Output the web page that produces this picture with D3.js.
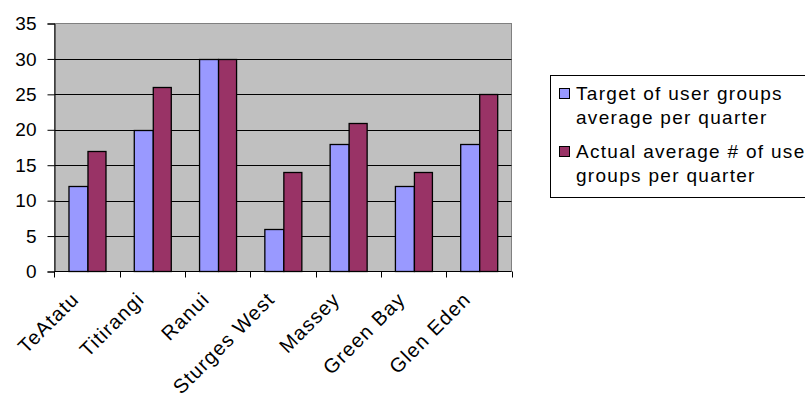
<!DOCTYPE html>
<html>
<head>
<meta charset="utf-8">
<script src="https://cdn.jsdelivr.net/npm/d3@7"></script>
<style>
  html, body { margin: 0; padding: 0; background: #fff; }
  svg { display: block; }
  text { font-family: "Liberation Sans", Arial, sans-serif; fill: #000; }
</style>
</head>
<body>
<svg id="chart" width="805" height="403"></svg>
<script>
// Branches and user-group figures
const branches = ["TeAtatu", "Titirangi", "Ranui", "Sturges West", "Massey", "Green Bay", "Glen Eden"];
const targetValues = [12, 20, 30, 6, 18, 12, 18];
const actualValues = [17, 26, 30, 14, 21, 14, 25];
const seriesNames = ["Target of user groups average per quarter", "Actual average # of user groups per quarter"];
const legendLines = [["Target of user groups", "average per quarter"], ["Actual average # of user", "groups per quarter"]];
const seriesColors = ["#9999FF", "#993366"];
const yTicks = [0, 5, 10, 15, 20, 25, 30, 35];

const svg = d3.select("#chart");
const plot = { left: 54.5, right: 511.5, top: 23.5, bottom: 271.5 };

const x = d3.scaleBand().domain(branches).range([plot.left, plot.right]).paddingInner(0).paddingOuter(0);
const y = d3.scaleLinear().domain([0, 35]).range([plot.bottom, plot.top]);

// plot background
svg.append("rect")
  .attr("x", plot.left).attr("y", plot.top)
  .attr("width", plot.right - plot.left).attr("height", plot.bottom - plot.top)
  .attr("fill", "#C0C0C0").attr("stroke", "#808080").attr("stroke-width", 1);

// horizontal gridlines
svg.append("g").selectAll("line")
  .data(yTicks.filter(d => d > 0 && d < 35))
  .join("line")
  .attr("x1", plot.left).attr("x2", plot.right)
  .attr("y1", d => Math.round(y(d)) + 0.5).attr("y2", d => Math.round(y(d)) + 0.5)
  .attr("stroke", "#000").attr("stroke-width", 1);

// bars: gap width 150% between groups
const barW = x.bandwidth() / 3.5;
const groups = svg.append("g").selectAll("g")
  .data(branches.map((b, i) => ({ b, vals: [targetValues[i], actualValues[i]] })))
  .join("g")
  .attr("transform", d => `translate(${x(d.b) + barW * 0.75},0)`);

groups.selectAll("rect")
  .data(d => d.vals)
  .join("rect")
  .attr("x", (d, i) => Math.round(i * barW) + 0.5)
  .attr("width", (d, i) => Math.round((i + 1) * barW) - Math.round(i * barW))
  .attr("y", d => Math.round(y(d)) + 0.5)
  .attr("height", d => Math.round(plot.bottom - 0.5) - Math.round(y(d)))
  .attr("fill", (d, i) => seriesColors[i])
  .attr("stroke", "#000").attr("stroke-width", 1.3);

// y axis
const yAxis = d3.axisLeft(y).tickValues(yTicks).tickSize(7).tickPadding(11).tickFormat(d3.format("d"));
const gy = svg.append("g").attr("transform", `translate(${plot.left},0)`).call(yAxis);
gy.select(".domain").attr("stroke", "#000");
gy.selectAll(".tick line").attr("stroke", "#000");
gy.selectAll(".tick text").attr("font-size", 19).attr("fill", "#000")
  .attr("font-family", "'Liberation Sans', Arial, sans-serif");

// x axis with boundary ticks
const gx = svg.append("g");
gx.append("line")
  .attr("x1", plot.left).attr("x2", plot.right)
  .attr("y1", plot.bottom).attr("y2", plot.bottom)
  .attr("stroke", "#000");
const bounds = branches.map(b => x(b)).concat([plot.right]);
gx.selectAll("line.tk").data(bounds).join("line").attr("class", "tk")
  .attr("x1", d => Math.round(d) + 0.5).attr("x2", d => Math.round(d) + 0.5)
  .attr("y1", plot.bottom).attr("y2", plot.bottom + 6)
  .attr("stroke", "#000");

// rotated category labels
gx.selectAll("text").data(branches).join("text")
  .attr("transform", d => `translate(${x(d) + x.bandwidth() / 2 - 7},${plot.bottom + 29}) rotate(-45)`)
  .attr("text-anchor", "end")
  .attr("font-size", 20)
  .attr("letter-spacing", 1.2)
  .text(d => d);

// legend
const lg = svg.append("g");
lg.append("rect").attr("x", 550.5).attr("y", 75.5).attr("width", 300).attr("height", 122)
  .attr("fill", "#fff").attr("stroke", "#000");
const rowY = [100, 158];
seriesNames.forEach((name, i) => {
  lg.append("rect").attr("x", 559.5).attr("y", rowY[i] - 11.5).attr("width", 10).attr("height", 10)
    .attr("fill", seriesColors[i]).attr("stroke", "#000");
  const t = lg.append("text").attr("x", 576).attr("y", rowY[i]).attr("font-size", 19)
    .attr("letter-spacing", 1.3);
  legendLines[i].forEach((ln, j) => {
    t.append("tspan").attr("x", 576).attr("dy", j === 0 ? 0 : 24).text(ln);
  });
});
</script>
</body>
</html>
